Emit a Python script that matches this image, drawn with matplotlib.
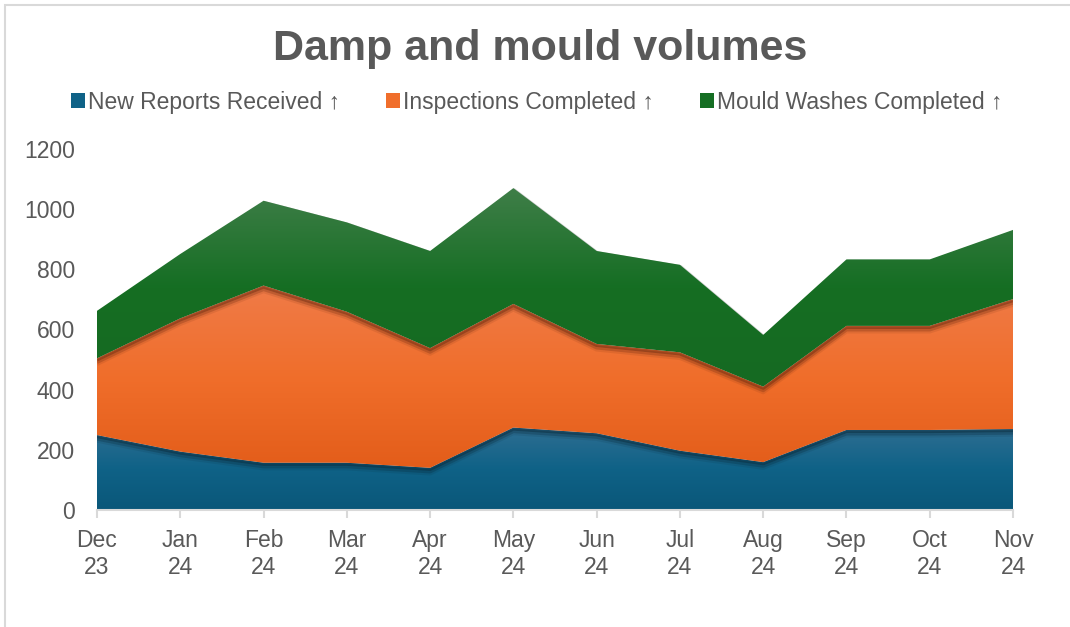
import numpy as np
import matplotlib
matplotlib.use("Agg")
import matplotlib.pyplot as plt
from matplotlib.colors import LinearSegmentedColormap
from matplotlib.patches import Rectangle, Polygon
import matplotlib.transforms as mtransforms

plt.rcParams['font.family'] = ['Liberation Sans', 'DejaVu Sans']

months = ["Dec\n23", "Jan\n24", "Feb\n24", "Mar\n24", "Apr\n24", "May\n24",
          "Jun\n24", "Jul\n24", "Aug\n24", "Sep\n24", "Oct\n24", "Nov\n24"]
new_reports = [249, 194, 157, 157, 140, 274, 255, 197, 159, 266, 266, 269]
inspections = [255, 443, 589, 502, 398, 411, 297, 327, 251, 346, 346, 432]
mould_washes = [158, 214, 282, 297, 323, 385, 309, 291, 172, 221, 221, 230]
series_names = ["New Reports Received \u2191", "Inspections Completed \u2191",
                "Mould Washes Completed \u2191"]

top_cols = ["#2F6E92", "#EF7B48", "#3F7E48"]
mid_cols = ["#0F6287", "#F06E2B", "#156E23"]
bot_cols = ["#0A5779", "#E35D1A", "#166A22"]
shadow_cols = ["#0a2a3a", "#6a2a10", "#888888"]

fig = plt.figure(figsize=(10.7, 6.27), dpi=100)
ax = fig.add_axes([97/1070, 1 - 510/627, 916/1070, 361/627])

x = np.arange(len(months))
data = [new_reports, inspections, mould_washes]
polys = ax.stackplot(x, *data, colors=mid_cols, linewidth=0)

cum = np.cumsum(np.array(data, dtype=float), axis=0)
lowers = [np.zeros(len(x))] + [cum[i] for i in range(len(cum) - 1)]

clip_patches = []
for i, p in enumerate(polys):
    verts = np.vstack([np.column_stack([x, cum[i]]),
                       np.column_stack([x[::-1], lowers[i][::-1]])])
    cp = Polygon(verts, closed=True, transform=ax.transData)
    clip_patches.append(cp)
    cmap = LinearSegmentedColormap.from_list("g%d" % i, [bot_cols[i], mid_cols[i], top_cols[i]])
    ymin = lowers[i].min()
    ymax = cum[i].max()
    grad = np.linspace(0, 1, 256).reshape(-1, 1)
    im = ax.imshow(grad, extent=[0, len(months) - 1, ymin, ymax], origin="lower",
                   aspect="auto", cmap=cmap, zorder=2 + i * 0.1, interpolation="bilinear")
    im.set_clip_path(cp)
    p.set_visible(False)

ax.set_xlim(0, len(months) - 1)
ax.set_ylim(0, 1200)

# shadows: each series casts a soft shadow downward onto the one below
for i in range(1, len(polys)):
    for off, a, lw in [(1.0, 0.5, 2.5), (2.5, 0.28, 3), (4.0, 0.12, 3)]:
        tr = mtransforms.offset_copy(ax.transData, fig=fig, x=0, y=-off, units='points')
        ln, = ax.plot(x, cum[i - 1], color=shadow_cols[i - 1], alpha=a, lw=lw,
                      transform=tr, zorder=5, solid_capstyle='butt')
        ln.set_clip_path(clip_patches[i - 1])
# light shadow on top edge
tr = mtransforms.offset_copy(ax.transData, fig=fig, x=0.8, y=-0.8, units='points')
ax.plot(x, cum[-1], color="#bbbbbb", lw=1.2, alpha=0.7, transform=tr, zorder=1.5)

for s in ["top", "right", "left"]:
    ax.spines[s].set_visible(False)
ax.spines["bottom"].set_color("#D9D9D9")
ax.spines["bottom"].set_linewidth(1.5)
ax.spines["bottom"].set_zorder(6)
ax.set_xticks(x)
ax.set_xticklabels(months, fontsize=16.5, color="#595959", linespacing=1.22)
ax.tick_params(axis="x", length=6, width=1.5, color="#D9D9D9", pad=8)
ax.set_yticks(np.arange(0, 1201, 200))
ax.set_yticklabels([str(v) for v in range(0, 1201, 200)], fontsize=16.5, color="#595959")
ax.tick_params(axis="y", length=0, pad=16)

fig.text(0.5 + 5/1070, 1 - 49/627, "Damp and mould volumes", ha="center", va="center",
         fontsize=31, fontweight="bold", color="#595959")

handles = [Rectangle((0, 0), 1, 1, facecolor=c) for c in mid_cols]
leg = fig.legend(handles, series_names, loc="center", bbox_to_anchor=(0.5 + 2/1070, 1 - 102/627),
                 ncol=3, frameon=False, fontsize=16.5, handlelength=0.6, handleheight=0.6,
                 handletextpad=0.15, columnspacing=2.0, labelcolor="#595959")

fig.patches.append(Rectangle((5/1070, -0.02), 1.0, 1 - 5/627 + 0.02, transform=fig.transFigure,
                             fill=False, edgecolor="#D9D9D9", lw=1.5))

fig.savefig("out.png", dpi=100)
